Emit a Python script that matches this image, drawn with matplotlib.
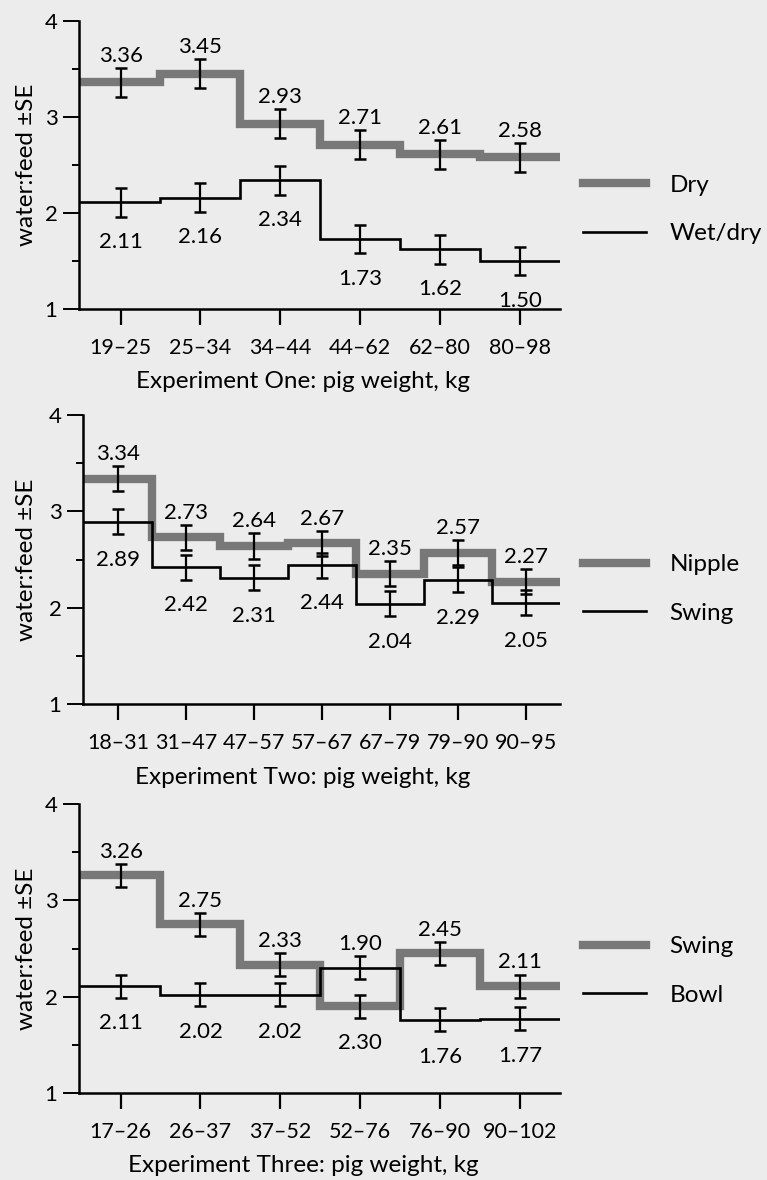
import numpy as np
import matplotlib
matplotlib.use("Agg")
import matplotlib.pyplot as plt

plt.rcParams['font.family'] = ['Lato', 'DejaVu Sans']

# ---- data ----
exp1_cats = ['19–25', '25–34', '34–44', '44–62', '62–80', '80–98']
exp1_dry = [3.36, 3.45, 2.93, 2.71, 2.61, 2.58]
exp1_wetdry = [2.11, 2.16, 2.34, 1.73, 1.62, 1.50]
exp1_se = 0.15

exp2_cats = ['18–31', '31–47', '47–57', '57–67', '67–79', '79–90', '90–95']
exp2_nipple = [3.34, 2.73, 2.64, 2.67, 2.35, 2.57, 2.27]
exp2_swing = [2.89, 2.42, 2.31, 2.44, 2.04, 2.29, 2.05]
exp2_se = 0.13

exp3_cats = ['17–26', '26–37', '37–52', '52–76', '76–90', '90–102']
exp3_swing = [3.26, 2.75, 2.33, 1.90, 2.45, 2.11]
exp3_bowl = [2.11, 2.02, 2.02, 2.30, 1.76, 1.77]
exp3_se = 0.12

panels = [
    dict(cats=exp1_cats, a=exp1_dry, b=exp1_wetdry, se=exp1_se,
         la='Dry', lb='Wet/dry', xlabel='Experiment One: pig weight, kg'),
    dict(cats=exp2_cats, a=exp2_nipple, b=exp2_swing, se=exp2_se,
         la='Nipple', lb='Swing', xlabel='Experiment Two: pig weight, kg'),
    dict(cats=exp3_cats, a=exp3_swing, b=exp3_bowl, se=exp3_se,
         la='Swing', lb='Bowl', xlabel='Experiment Three: pig weight, kg'),
]

BG = '#ececec'
GREY = '#787878'
W, H = 767, 1180
FS_TICK = 15.5
FS_VAL = 16
FS_LAB = 17.5
FS_LEG = 17.5

fig = plt.figure(figsize=(W / 100, H / 100), dpi=100, facecolor=BG)

# pixel boxes: (left, top, right, bottom) of the y=4 .. y=1 plotting area
boxes = [(79, 21, 560, 309), (83, 415, 560, 704), (79, 804, 560, 1093)]
legend_y = [(182 + 237) / 2, (562 + 616) / 2, (943 + 999) / 2]
xlabel_x = 303

for p, (l, t, r, b), ly in zip(panels, boxes, legend_y):
    ax = fig.add_axes([l / W, 1 - b / H, (r - l) / W, (b - t) / H])
    ax.set_facecolor(BG)
    n = len(p['cats'])
    x = np.arange(n)
    xlim = (-0.52, n - 0.5)
    edges = np.r_[xlim[0], np.arange(n - 1) + 0.5, xlim[1]]

    ha = ax.stairs(p['a'], edges, baseline=None, color=GREY, lw=6.0,
                   label=p['la'], zorder=2)
    hb = ax.stairs(p['b'], edges, baseline=None, color='black', lw=1.9,
                   label=p['lb'], zorder=3)
    for vals in (p['a'], p['b']):
        ax.errorbar(x, vals, yerr=p['se'], fmt='none', ecolor='black',
                    elinewidth=1.6, capsize=4.0, capthick=1.8, zorder=4)

    # value labels: first series above the pair, second series below
    for i in range(n):
        top = max(p['a'][i], p['b'][i]) + p['se']
        bot = min(p['a'][i], p['b'][i]) - p['se']
        ax.annotate(f"{p['a'][i]:.2f}", (x[i], top), xytext=(0, 1.5),
                    textcoords='offset points', ha='center', va='bottom',
                    fontsize=FS_VAL)
        ax.annotate(f"{p['b'][i]:.2f}", (x[i], bot), xytext=(0, -11),
                    textcoords='offset points', ha='center', va='top',
                    fontsize=FS_VAL)

    ax.set_xlim(*xlim)
    ax.set_ylim(1, 4)
    ax.set_xticks(x)
    ax.set_xticklabels(p['cats'], fontsize=FS_TICK)
    ax.set_yticks([1, 2, 3, 4])
    ax.set_yticklabels(['1', '2', '3', '4'], fontsize=FS_VAL)
    ax.set_yticks([1.5, 2.5, 3.5], minor=True)
    ax.tick_params(axis='x', direction='out', length=11.5, width=1.6, pad=9.5)
    ax.tick_params(axis='y', which='major', direction='out', length=11.5,
                   width=1.4, pad=4)
    ax.tick_params(axis='y', which='minor', direction='out', length=5,
                   width=1.4)
    for s in ('top', 'right'):
        ax.spines[s].set_visible(False)
    for s in ('left', 'bottom'):
        ax.spines[s].set_linewidth(1.8)
    ax.spines['left'].set_bounds(1, 4)

    ax.set_xlabel(p['xlabel'], fontsize=FS_LAB)
    ax.xaxis.set_label_coords((xlabel_x - l) / (r - l), -73 / (b - t))
    ax.xaxis.label.set_va('center')
    ax.set_ylabel('water:feed ±SE', fontsize=FS_LEG)
    ax.yaxis.set_label_coords(-(l - 27) / (r - l), 0.5)
    ax.yaxis.label.set_va('center')

    ax.legend(handles=[ha, hb], loc='center left',
              bbox_to_anchor=((583 - l) / (r - l), (b - ly) / (b - t)),
              frameon=False, fontsize=FS_LEG, handlelength=2.6,
              handletextpad=0.95, labelspacing=1.15, borderpad=0,
              borderaxespad=0)

fig.savefig('out.png', dpi=100, facecolor=BG)
